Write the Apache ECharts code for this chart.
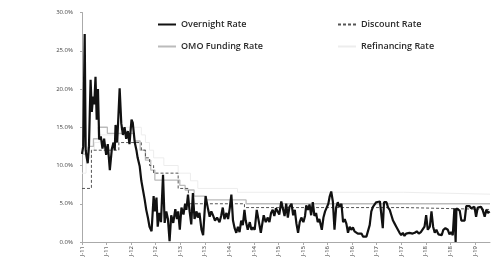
<!DOCTYPE html>
<html>
<head>
<meta charset="utf-8">
<script src="https://cdn.jsdelivr.net/npm/echarts@6.0.0/dist/echarts.min.js"></script>
<style>
html,body{margin:0;padding:0;background:#fff;}
#chart{width:492px;height:267px;}
</style>
</head>
<body>
<div id="chart"></div>
<script>
// x = months since Jan 2011, y = rate in %
var overnightRate = [
	[0.0,11.5],[0.3,12.5],[0.66,27.2],[0.9,12],[1.1,11.2],[1.4,10.3],[1.7,12.5],[2.1,21.2],[2.4,17],[2.7,19],
	[3.0,18],[3.3,21.6],[3.6,16],[3.9,20],[4.2,13.4],[4.6,13.8],[5.0,12.2],[5.4,13.5],[5.9,11.4],[6.3,12.8],
	[6.8,9.4],[7.3,12.2],[7.7,13],[8.0,12],[8.2,15.3],[8.6,13],[9.2,20.1],[9.6,15.5],[10.0,14],[10.4,15],
	[10.8,13.5],[11.2,14.5],[11.6,12.8],[12.1,16],[12.4,15.6],[12.9,13],[13.3,12],[13.6,11],[14.1,9.9],[14.5,8],
	[14.9,6.8],[15.3,5.6],[15.7,4.2],[16.1,3.2],[16.5,2],[17.0,1.4],[17.5,6],[17.8,4],[18.2,5.8],[18.5,2],
	[18.9,3.8],[19.3,2.6],[19.8,8.8],[20.2,2.5],[20.6,4],[21.0,3],[21.4,0.1],[21.8,3.5],[22.3,2.5],[22.8,4.3],
	[23.2,3],[23.5,4],[23.9,1.6],[24.3,4.5],[24.8,3.6],[25.2,5],[25.5,4.2],[25.9,6.2],[26.3,4],[26.7,2.3],
	[27.1,6.4],[27.5,3],[28.0,4],[28.3,3.2],[28.7,3.8],[29.2,1.6],[29.6,0.9],[30.0,0.8],[30.2,6],[30.8,4.3],
	[31.2,3.3],[31.6,4],[32.0,3.5],[32.5,2.8],[33.0,3.2],[33.6,2.6],[34.0,3.4],[34.4,4.5],[34.8,3],[35.3,3.8],
	[35.7,3],[36.1,4.4],[36.5,6.2],[36.9,2.8],[37.3,1.8],[37.7,1.2],[38.1,2],[38.5,1.3],[38.9,2.8],[39.3,2.2],
	[39.7,4.2],[40.0,2.8],[40.5,1.6],[41.0,2.6],[41.4,1.6],[41.8,1.9],[42.2,1.6],[42.7,4.2],[43.3,2.4],[43.7,1.2],
	[44.0,2.2],[44.4,3.5],[44.9,2.6],[45.4,3.2],[45.8,2.6],[46.2,3.8],[46.6,4.2],[47.0,3.4],[47.4,4.4],[47.8,4.6],
	[48.2,3.6],[48.7,5.3],[49.1,5.5],[49.5,3.4],[49.9,5],[50.3,3.2],[50.7,4.6],[51.2,5],[51.6,3.5],[52.0,4.2],
	[52.4,2.4],[52.8,1.2],[53.2,2.6],[53.6,3.2],[54.1,2.6],[54.5,3.4],[54.8,4.8],[55.2,4.2],[55.6,4.9],[56.0,3.5],
	[56.4,5.2],[56.8,3.4],[57.2,3.8],[57.6,2.6],[58.0,3],[58.6,1.6],[59.0,3.2],[59.4,4],[59.8,4.2],[60.2,5],
	[60.5,5.9],[60.9,6.6],[61.3,5.3],[61.7,1.6],[62.1,4.5],[62.5,5.2],[62.9,4.6],[63.4,5],[63.8,2.6],[64.2,3],
	[64.6,2.4],[65.0,1.2],[65.4,2],[65.8,1.6],[66.2,1.9],[66.6,1.4],[67.0,1.6],[67.4,1.1],[67.8,0.9],[68.3,1.1],
	[68.7,0.7],[69.1,0.8],[69.5,0.7],[69.8,0.9],[70.3,2.2],[70.7,4],[71.1,4.6],[71.5,4.8],[71.9,5.2],[72.3,5.4],
	[72.8,5.3],[73.2,5.2],[73.5,1.8],[73.8,5.2],[74.1,5.3],[74.4,5.2],[74.8,4.5],[75.2,4.2],[75.6,3.5],[76.0,2.8],
	[76.4,2.4],[76.8,2],[77.2,1.6],[77.6,1.2],[78.0,0.9],[78.4,1.2],[78.8,0.8],[79.2,1.1],[79.6,0.9],[80.0,1.2],
	[80.4,1],[80.8,1.1],[81.3,1.2],[81.8,1.4],[82.3,1.1],[82.8,1.3],[83.2,1.2],[83.7,2],[84.1,3.5],[84.5,1.6],
	[85.0,2],[85.4,4],[85.8,2],[86.2,1.2],[86.6,1.6],[87.1,1],[87.5,1.2],[87.9,0.9],[88.3,1.6],[88.8,1.8],
	[89.4,1.6],[89.8,1],[90.2,1.3],[90.6,0.9],[91.0,4.4],[91.3,0],[91.5,4.4],[91.9,4.2],[92.3,4.1],[92.7,2.8],
	[93.1,2.8],[93.5,2.8],[93.9,4.7],[94.3,4.6],[94.7,4.7],[95.1,4.4],[95.5,4.2],[95.9,4.6],[96.3,3.3],[96.7,4.5],
	[97.1,4.4],[97.5,4.6],[97.9,4.2],[98.4,3.3],[98.8,4.2],[99.2,3.8],[99.6,4]
];
// policy rates: value holds from each point until the next one
var discountRate = [[0,7],[2.3,12],[9,13],[14.5,12],[15.5,11],[16.5,10],[17.5,9],[23.5,7],[26,5],[39.7,4.5],[79,4.25],[99.7,4.25]];
var omoRate = [[0,11.5],[1.5,12.5],[2.8,13.5],[4,15],[6.2,14.2],[12.8,13.2],[14.2,12],[15.5,10.7],[16.8,9.4],[17.8,8.1],[23.9,7.4],[25.2,6.8],[27.4,6],[30.4,5.5],[40.1,5],[99.7,5]];
var refiRate = [[0,9],[1,11],[2.3,12],[3,13],[4.2,14],[9.3,15],[14.5,14],[15.5,13],[16.5,12],[17.5,11],[20,10],[23.5,9],[26.5,8],[28.3,7],[38,6.5],[78.5,6.25],[99.7,6.25]];
var yTicks = [0,5,10,15,20,25,30];

var chart = echarts.init(document.getElementById('chart'));
var txtFont = '"Open Sans", "DejaVu Sans", sans-serif';
var legendBase = {
	top:15,orient:'vertical',itemWidth:18,itemHeight:10,itemGap:13,
	itemStyle:{opacity:0},
	textStyle:{fontSize:9,color:'#2a2a2a',fontWeight:600,fontFamily:txtFont}
};
var option = {
	animation:false,
	backgroundColor:'#fff',
	grid:{left:82,right:2,top:12.5,bottom:25},
	legend:[
		echarts.util.extend({left:152,data:['Overnight Rate','OMO Funding Rate']},legendBase),
		echarts.util.extend({left:332,data:['Discount Rate','Refinancing Rate']},legendBase)
	],
	xAxis:{
		type:'value',min:0,max:99.7,interval:6,
		axisLine:{lineStyle:{color:'#aaa',width:1}},
		axisTick:{show:true,length:3,lineStyle:{color:'#aaa'}},
		splitLine:{show:false},
		axisLabel:{
			rotate:90,fontSize:6,color:'#333',margin:4,fontFamily:txtFont,showMaxLabel:false,
			formatter:function(v){ return 'J-'+(11+Math.floor(v/12)); }
		}
	},
	yAxis:{
		type:'value',min:yTicks[0],max:yTicks[yTicks.length-1],interval:5,
		axisLine:{show:true,lineStyle:{color:'#aaa',width:1}},
		axisTick:{show:true,length:2,lineStyle:{color:'#aaa'}},
		splitLine:{show:false},
		axisLabel:{
			fontSize:6,color:'#444',margin:9,fontFamily:txtFont,
			formatter:function(v){ return v.toFixed(1)+'%'; }
		}
	},
	series:[
		{
			name:'Refinancing Rate',type:'line',step:'end',symbol:'none',
			itemStyle:{color:'#ededed'},
			lineStyle:{color:'#ededed',width:1},
			data:refiRate,z:1
		},
		{
			name:'OMO Funding Rate',type:'line',step:'end',symbol:'none',
			itemStyle:{color:'#bbb'},
			lineStyle:{color:'#bbb',width:1.3},
			data:omoRate,z:2
		},
		{
			name:'Discount Rate',type:'line',step:'end',symbol:'none',
			itemStyle:{color:'#555'},
			lineStyle:{color:'#555',width:1,type:[3,2]},
			data:discountRate,z:3
		},
		{
			name:'Overnight Rate',type:'line',symbol:'none',
			itemStyle:{color:'#111'},
			lineStyle:{color:'#111',width:2.2},
			data:overnightRate,z:4
		}
	]
};
chart.setOption(option);
</script>
</body>
</html>
